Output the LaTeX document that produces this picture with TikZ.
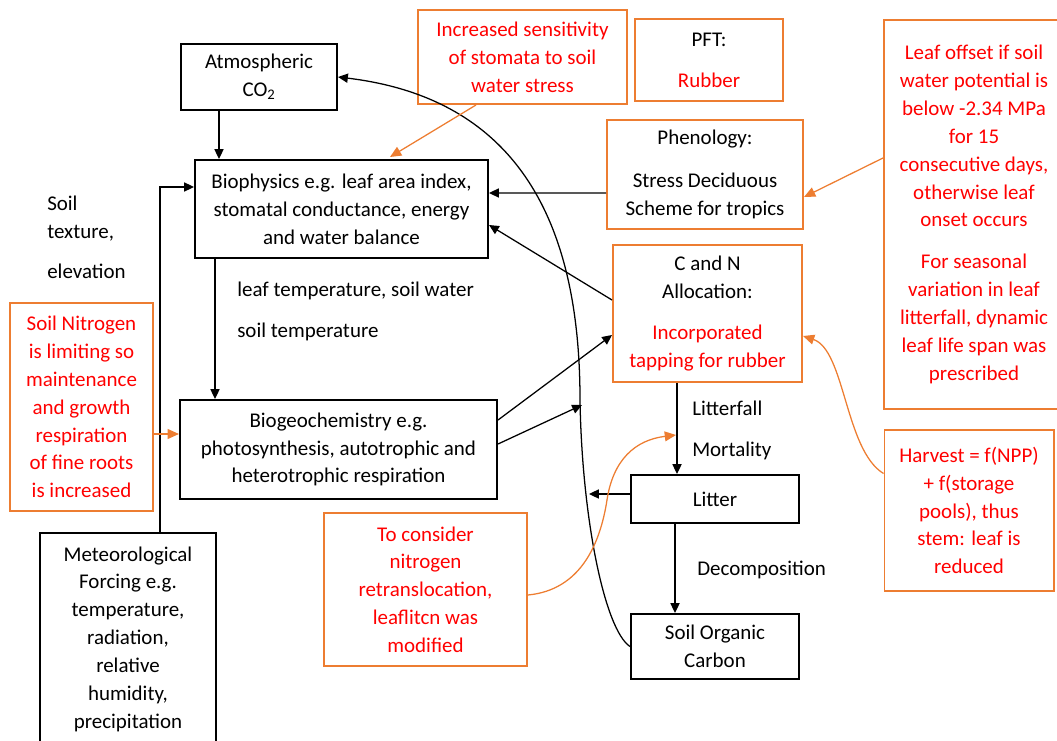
\documentclass[tikz,border=0pt]{standalone}
\usepackage{fontspec}
\setmainfont{Carlito}
\usetikzlibrary{arrows.meta,calc}

\definecolor{boxorange}{RGB}{237,125,49}

\tikzset{
    blackbox/.style={draw, line width=1.4pt, align=center, inner sep=0pt},
    orangebox/.style={draw=boxorange, line width=1.4pt, align=center, inner sep=0pt, text=red},
    freetext/.style={align=left, anchor=west, inner sep=0pt},
    flow/.style={draw, line width=0.9pt, -{Triangle[length=7pt,width=6.5pt]}},
    note/.style={draw=boxorange, line width=0.9pt, -{Triangle[length=8pt,width=7pt]}}
}

\begin{document}
\begin{tikzpicture}[x=0.025cm, y=-0.025cm, font=\fontsize{14.9}{19.8}\selectfont]
    \useasboundingbox (0,0) rectangle (1057,741);

    \begin{scope}[every node/.style={blackbox}]
        \node[minimum width=3.9cm, minimum height=1.65cm] (co2) at (259,77) {Atmospheric\\CO\textsubscript{2}};
        \node[minimum width=7.325cm, minimum height=2.45cm] (bio) at (341.5,209) {Biophysics e.g. leaf area index,\\stomatal conductance, energy\\and water balance};
        \node[minimum width=7.925cm, minimum height=2.475cm] (geo) at (338.5,449.5) {Biogeochemistry e.g.\\photosynthesis, autotrophic and\\heterotrophic respiration};
        \node[minimum width=4.4cm, minimum height=5.3cm] (meteo) at (128,639) {Meteorological\\Forcing e.g.\\temperature,\\radiation,\\relative\\humidity,\\precipitation};
        \node[minimum width=4.2cm, minimum height=1.2cm] (litter) at (715,499) {Litter};
        \node[minimum width=4.2cm, minimum height=1.625cm] (soc) at (715,646.5) {Soil Organic\\Carbon};
    \end{scope}

    \begin{scope}[every node/.style={orangebox}]
        \node[minimum width=5.225cm, minimum height=2.35cm] (incr) at (522.5,57) {Increased sensitivity\\of stomata to soil\\water stress};
        \node[minimum width=3.7cm, minimum height=2.05cm, text=black] (pft) at (709,60) {PFT:\\[9.5pt]\textcolor{red}{Rubber}};
        \node[minimum width=4.9cm, minimum height=2.725cm, text=black] (phen) at (705,174.5) {Phenology:\\[11pt]Stress Deciduous\\Scheme for tropics};
        \node[minimum width=4.5cm, minimum height=9.725cm] (leafoff) at (974,214.5) {Leaf offset if soil\\water potential is\\below -2.34 MPa\\for 15\\consecutive days,\\otherwise leaf\\onset occurs\\[10pt]For seasonal\\variation in leaf\\litterfall, dynamic\\leaf life span was\\prescribed};
        \node[minimum width=4.725cm, minimum height=3.425cm, text=black] (cn) at (707.5,313.5) {C and N\\Allocation:\\[10pt]\textcolor{red}{Incorporated}\\\textcolor{red}{tapping for rubber}};
        \node[minimum width=3.575cm, minimum height=5.2cm] (soilN) at (81.5,407) {Soil Nitrogen\\is limiting so\\maintenance\\and growth\\respiration\\of fine roots\\is increased};
        \node[minimum width=5.075cm, minimum height=3.825cm] (consider) at (425.5,589.5) {To consider\\nitrogen\\retranslocation,\\leaflitcn was\\modified};
        \node[minimum width=4.225cm, minimum height=4.025cm] (harvest) at (969,510.5) {Harvest = f(NPP)\\+ f(storage\\pools), thus\\stem: leaf is\\reduced};
    \end{scope}

    \node[freetext] (soiltex) at (47,237.5) {Soil\\texture,\\[8.8pt]elevation};
    \node[freetext] (leaftemp) at (237,311.5) {leaf temperature, soil water\\[9.5pt]soil temperature};
    \node[freetext] (litterfall) at (692,430.5) {Litterfall\\[9.5pt]Mortality};
    \node[freetext] (decomp) at (697,570) {Decomposition};

    \coordinate (gap1) at (582,405);
    \coordinate (gap2) at (589,494);
    \coordinate (gap3) at (676,435);

    \begin{scope}[every edge/.style={flow}]
        \path ($(co2.south)+(-40,0)$) edge ($(bio.north)+(-122.5,0)$);
        \path ($(bio.south)+(-126.5,0)$) edge ($(geo.north)+(-123.5,0)$);
        \path ($(phen.west)+(0,18.5)$) edge ($(bio.east)+(0,-16)$);
        \path ($(cn.west)+(0,-13.5)$) edge ($(bio.east)+(0,16)$);
        \path ($(geo.east)+(0,-29.5)$) edge ($(cn.west)+(0,21.5)$);
        \path ($(geo.east)+(0,-5.5)$) edge (gap1);
        \path ($(litter.west)+(0,-5)$) edge (gap2);
        \path ($(cn.south)+(-30.5,0)$) edge ($(litter.north)+(-38,0)$);
        \path ($(litter.south)+(-40,0)$) edge ($(soc.north)+(-40,0)$);
    \end{scope}
    \draw[flow] ($(meteo.north)+(32,0)$) |- ($(bio.west)+(0,-22)$);
    \draw[flow] (soc.west) .. controls (605,630) and (582,520) .. (580,400) .. controls (580,240) and (530,100) .. (co2.east);

    % notes
    \draw[note] ($(incr.south)+(-46.5,0)$) -- ($(bio.north)+(48.5,-2)$);
    \draw[note] ($(leafoff.west)+(0,-56.5)$) -- ($(phen.east)+(0,22.5)$);
    \draw[note] ($(soilN.east)+(0,27)$) -- ($(geo.west)+(0,-15.5)$);
    \draw[note] ($(consider.east)+(0,5.5)$) .. controls (580,590) and (600,545) .. (607,500) .. controls (613,460) and (635,440) .. (gap3);
    \draw[note] ($(harvest.west)+(0,-37)$) .. controls (845,450) and (845,350) .. ($(cn.east)+(0,22.5)$);
\end{tikzpicture}
\end{document}
